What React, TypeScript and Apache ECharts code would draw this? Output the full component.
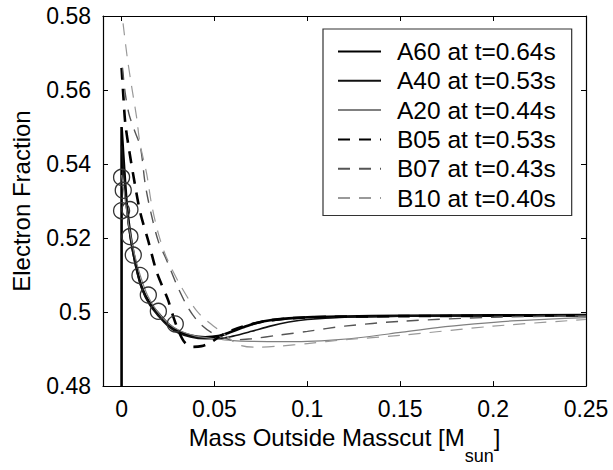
import React, { useEffect, useRef } from "react";
import * as echarts from "echarts";

const xTicks = [0, 0.05, 0.1, 0.15, 0.2, 0.25];
const yTicks = [0.48, 0.5, 0.52, 0.54, 0.56, 0.58];

const seriesNames = [
  "A60 at t=0.64s",
  "A40 at t=0.53s",
  "A20 at t=0.44s",
  "B05 at t=0.53s",
  "B07 at t=0.43s",
  "B10 at t=0.40s",
];

const a60X = [0, 0, 0.0015, 0.003, 0.005, 0.008, 0.011, 0.015, 0.02, 0.025, 0.03, 0.037, 0.045, 0.052, 0.058, 0.065, 0.072, 0.08, 0.09, 0.1, 0.12, 0.15, 0.2, 0.25];
const a60Y = [0.48, 0.55, 0.538, 0.528, 0.52, 0.512, 0.5065, 0.5025, 0.4995, 0.4968, 0.495, 0.4937, 0.4932, 0.4935, 0.4945, 0.4958, 0.497, 0.4978, 0.4983, 0.4986, 0.4988, 0.499, 0.4991, 0.4992];

const a40X = [0, 0.0015, 0.003, 0.005, 0.008, 0.011, 0.015, 0.02, 0.025, 0.03, 0.037, 0.045, 0.052, 0.06, 0.07, 0.08, 0.09, 0.1, 0.12, 0.15, 0.2, 0.25];
const a40Y = [0.545, 0.536, 0.527, 0.519, 0.5115, 0.5062, 0.502, 0.4988, 0.4962, 0.4945, 0.4933, 0.4928, 0.4928, 0.4935, 0.4948, 0.4962, 0.4973, 0.498, 0.4986, 0.4989, 0.499, 0.4991];

const a20X = [0, 0.002, 0.004, 0.007, 0.01, 0.014, 0.019, 0.025, 0.032, 0.04, 0.05, 0.06, 0.07, 0.085, 0.1, 0.115, 0.13, 0.15, 0.17, 0.19, 0.21, 0.23, 0.25];
const a20Y = [0.537, 0.53, 0.523, 0.5155, 0.51, 0.5045, 0.5003, 0.497, 0.4948, 0.4935, 0.4928, 0.4923, 0.4921, 0.492, 0.4921, 0.4925, 0.4932, 0.4945, 0.4958, 0.4968, 0.4976, 0.4981, 0.4985];

const b05X = [0, 0.001, 0.002, 0.004, 0.007, 0.01, 0.0145, 0.019, 0.025, 0.028, 0.031, 0.034, 0.038, 0.043, 0.048, 0.053, 0.06, 0.068, 0.078, 0.09, 0.11, 0.15, 0.2, 0.25];
const b05Y = [0.566, 0.558, 0.551, 0.544, 0.535, 0.527, 0.519, 0.5107, 0.5033, 0.4985, 0.4945, 0.4918, 0.4906, 0.4908, 0.4918, 0.4935, 0.4952, 0.4965, 0.4976, 0.4983, 0.4987, 0.4989, 0.499, 0.4991];

const b07X = [0.0005, 0.002, 0.004, 0.007, 0.0101, 0.0128, 0.016, 0.0198, 0.0242, 0.03, 0.036, 0.042, 0.05, 0.06, 0.07, 0.085, 0.1, 0.12, 0.15, 0.2, 0.25];
const b07Y = [0.566, 0.559, 0.5535, 0.549, 0.5447, 0.5343, 0.5264, 0.5191, 0.5141, 0.507, 0.501, 0.497, 0.494, 0.4925, 0.4928, 0.4938, 0.4948, 0.4962, 0.4975, 0.4986, 0.499];

const b10X = [0.0008, 0.003, 0.0054, 0.0081, 0.0099, 0.0135, 0.0162, 0.0198, 0.0243, 0.0316, 0.0415, 0.054, 0.063, 0.072, 0.085, 0.1, 0.12, 0.15, 0.2, 0.25];
const b10Y = [0.578, 0.569, 0.561, 0.5526, 0.5456, 0.5374, 0.529, 0.5212, 0.5146, 0.5073, 0.4997, 0.4945, 0.4912, 0.4905, 0.4908, 0.4915, 0.4925, 0.4937, 0.4962, 0.498];

const circleX = [0, 0.0009, 0, 0.0045, 0.0045, 0.0063, 0.0099, 0.0144, 0.0198, 0.0289];
const circleY = [0.5364, 0.5329, 0.5274, 0.5277, 0.5204, 0.5154, 0.5099, 0.5046, 0.5002, 0.4968];

const zip = (xs: number[], ys: number[]) => xs.map((x, i) => [x, ys[i]]);

const FONT = "'Liberation Sans', Arial, Helvetica, sans-serif";

export default function App() {
  const ref = useRef<HTMLDivElement>(null);
  useEffect(() => {
    document.body.style.margin = "0";
    const chart = echarts.init(ref.current!, null, { renderer: "svg" });
    const dash = [12, 9];
    const lineSeries = (name: string, xs: number[], ys: number[], color: string, width: number, dashed: boolean) => ({
      name,
      type: "line",
      data: zip(xs, ys),
      showSymbol: false,
      symbol: "none",
      smooth: 0.3,
      lineStyle: { color, width, type: dashed ? dash : "solid" },
      itemStyle: { color },
      z: 3,
    });
    const axisCommon = {
      axisLine: { show: true, onZero: false, lineStyle: { color: "#000", width: 1.2 } },
      splitLine: { show: false },
    };
    chart.setOption({
      animation: false,
      backgroundColor: "#fff",
      textStyle: { fontFamily: FONT },
      grid: { left: 103, right: 27, top: 16, bottom: 73, containLabel: false },
      xAxis: [
        {
          type: "value",
          min: -0.01,
          max: 0.25,
          ...axisCommon,
          axisTick: { show: true, inside: true, length: 5, customValues: xTicks, lineStyle: { color: "#000" } },
          axisLabel: {
            customValues: xTicks,
            formatter: (v: number) => String(v),
            color: "#000",
            fontSize: 23,
            fontFamily: FONT,
            margin: 11,
          },
          name: "{m|Mass Outside Masscut [M}{s|sun}{m|]}",
          nameLocation: "middle",
          nameGap: 35,
          nameTextStyle: {
            rich: {
              m: { fontSize: 24, fontFamily: FONT, color: "#000", verticalAlign: "top" },
              s: { fontSize: 18, fontFamily: FONT, color: "#000", padding: [22, 0, 0, 0] },
            },
          },
        },
        {
          type: "value",
          position: "top",
          min: -0.01,
          max: 0.25,
          ...axisCommon,
          axisTick: { show: true, inside: true, length: 5, customValues: xTicks, lineStyle: { color: "#000" } },
          axisLabel: { show: false },
        },
      ],
      yAxis: [
        {
          type: "value",
          min: 0.48,
          max: 0.58,
          ...axisCommon,
          axisTick: { show: true, inside: true, length: 5, customValues: yTicks, lineStyle: { color: "#000" } },
          axisLabel: {
            customValues: yTicks,
            formatter: (v: number) => String(v),
            color: "#000",
            fontSize: 23,
            fontFamily: FONT,
            margin: 12,
          },
          name: "Electron Fraction",
          nameLocation: "middle",
          nameGap: 70,
          nameTextStyle: { fontSize: 24, fontFamily: FONT, color: "#000" },
        },
        {
          type: "value",
          position: "right",
          min: 0.48,
          max: 0.58,
          ...axisCommon,
          axisTick: { show: true, inside: true, length: 5, customValues: yTicks, lineStyle: { color: "#000" } },
          axisLabel: { show: false },
        },
      ],
      legend: {
        data: seriesNames,
        orient: "vertical",
        left: 323,
        top: 29,
        backgroundColor: "#fff",
        borderColor: "#333",
        borderWidth: 1.2,
        borderRadius: 0,
        padding: [10, 16, 5, 14],
        itemWidth: 43,
        itemHeight: 14,
        itemGap: 4.3,
        itemStyle: { opacity: 0, borderWidth: 0 },
        textStyle: { fontSize: 24.5, fontFamily: FONT, color: "#000", lineHeight: 24, padding: [0, 0, 0, 11] },
      },
      series: [
        lineSeries(seriesNames[0], a60X, a60Y, "#000", 2.6, false),
        lineSeries(seriesNames[1], a40X, a40Y, "#111", 1.6, false),
        lineSeries(seriesNames[2], a20X, a20Y, "#808080", 1.2, false),
        lineSeries(seriesNames[3], b05X, b05Y, "#000", 2.6, true),
        lineSeries(seriesNames[4], b07X, b07Y, "#555", 1.4, true),
        lineSeries(seriesNames[5], b10X, b10Y, "#999", 1.2, true),
        {
          name: "circles",
          type: "scatter",
          data: zip(circleX, circleY),
          symbol: "circle",
          symbolSize: 16,
          itemStyle: { color: "rgba(0,0,0,0)", borderColor: "#333", borderWidth: 1.3, opacity: 1 },
          z: 4,
        },
      ],
    });
    return () => chart.dispose();
  }, []);
  return <div ref={ref} style={{ width: 613, height: 470 }} />;
}
